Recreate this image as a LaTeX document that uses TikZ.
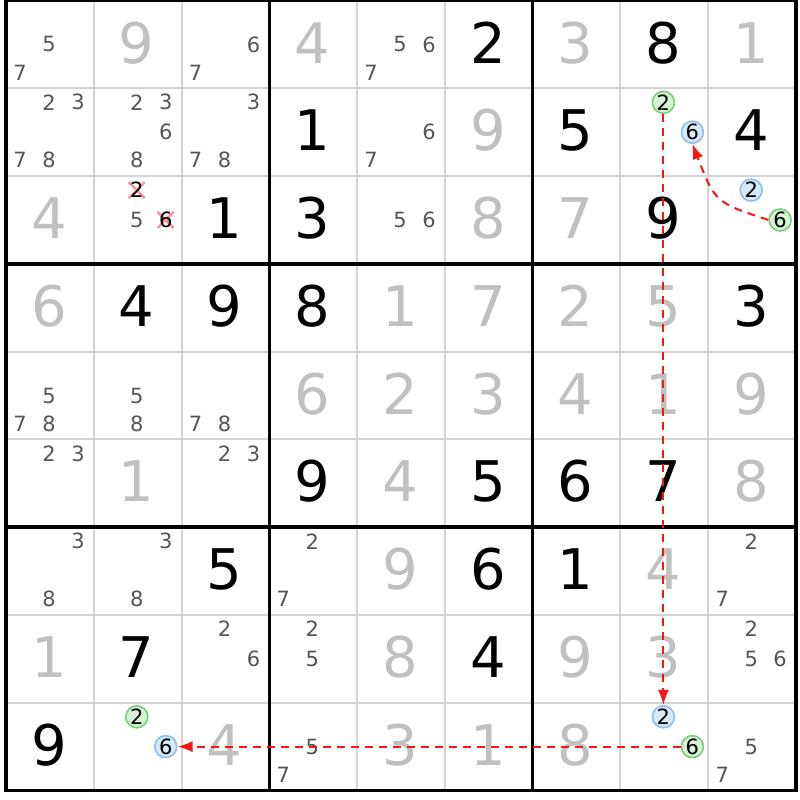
\documentclass[tikz,border=0pt]{standalone}
\usepackage{fontspec}
\setmainfont{DejaVu Sans}
\usepackage{xcolor}
\usepackage{tikz}
\usetikzlibrary{arrows.meta}

\definecolor{solvedgray}{RGB}{192,192,192}
\definecolor{candgray}{RGB}{85,85,85}
\definecolor{gridgray}{RGB}{211,211,211}
\definecolor{ongreen}{RGB}{120,205,120}
\definecolor{ongreenfill}{RGB}{212,244,212}
\definecolor{offblue}{RGB}{140,190,240}
\definecolor{offbluefill}{RGB}{214,232,250}
\definecolor{crosspink}{RGB}{245,150,160}
\definecolor{linkred}{RGB}{250,20,20}

\newcommand{\bigdigit}{\fontsize{56}{60}\selectfont}
\newcommand{\smalldigit}{\fontsize{21}{23}\selectfont}

\tikzset{
  thinline/.style={gridgray, line width=2pt},
  thickline/.style={black, line width=3.5pt},
  given/.style={font=\bigdigit, text=black, inner sep=0pt},
  solved/.style={given, text=solvedgray},
  cand/.style={font=\smalldigit, text=candgray, inner sep=0pt},
  elim/.style={cand, text=black, minimum size=20pt, path picture={
    \draw[crosspink, line width=2.5pt] ([shift={(-8pt,-8pt)}]path picture bounding box.center) -- ([shift={(8pt,8pt)}]path picture bounding box.center);
    \draw[crosspink, line width=2.5pt] ([shift={(-8pt,8pt)}]path picture bounding box.center) -- ([shift={(8pt,-8pt)}]path picture bounding box.center);}},
  oncand/.style={cand, text=black, circle, minimum size=22pt, line width=1.6pt, draw=ongreen, fill=ongreenfill},
  offcand/.style={oncand, draw=offblue, fill=offbluefill},
  link/.style={linkred, line width=2pt, dash pattern=on 8pt off 6pt, -{Latex[length=15pt,width=11pt]}}
}

\begin{document}
\begin{tikzpicture}[x=87.78pt, y=-87.78pt]
\useasboundingbox (-0.068,-0.006) rectangle (9.046,9.108);

\draw[thinline] (1,0) -- (1,9);
\draw[thinline] (2,0) -- (2,9);
\draw[thinline] (4,0) -- (4,9);
\draw[thinline] (5,0) -- (5,9);
\draw[thinline] (7,0) -- (7,9);
\draw[thinline] (8,0) -- (8,9);
\draw[thinline] (0,1) -- (9,1);
\draw[thinline] (0,2) -- (9,2);
\draw[thinline] (0,4) -- (9,4);
\draw[thinline] (0,5) -- (9,5);
\draw[thinline] (0,7) -- (9,7);
\draw[thinline] (0,8) -- (9,8);
\draw[thickline] (3,0) -- (3,9);
\draw[thickline] (6,0) -- (6,9);
\draw[thickline] (0,3) -- (9,3);
\draw[thickline] (0,6) -- (9,6);
\draw[thickline] (0,0) rectangle (9,9);

\node[cand] (c115) at (.49,.5) {5};
\node[cand] (c117) at (.16,.82) {7};
\node[solved] (v12) at (1.49,.48) {9};
\node[cand] (c136) at (2.82,.5) {6};
\node[cand] (c137) at (2.16,.82) {7};
\node[solved] (v14) at (3.49,.48) {4};
\node[cand] (c155) at (4.49,.5) {5};
\node[cand] (c156) at (4.82,.5) {6};
\node[cand] (c157) at (4.16,.82) {7};
\node[given] (v16) at (5.49,.48) {2};
\node[solved] (v17) at (6.49,.48) {3};
\node[given] (v18) at (7.49,.48) {8};
\node[solved] (v19) at (8.49,.48) {1};

\node[cand] (c212) at (.49,1.16) {2};
\node[cand] (c213) at (.82,1.16) {3};
\node[cand] (c217) at (.16,1.82) {7};
\node[cand] (c218) at (.49,1.82) {8};
\node[cand] (c222) at (1.49,1.16) {2};
\node[cand] (c223) at (1.82,1.16) {3};
\node[cand] (c226) at (1.82,1.5) {6};
\node[cand] (c228) at (1.49,1.82) {8};
\node[cand] (c233) at (2.82,1.16) {3};
\node[cand] (c237) at (2.16,1.82) {7};
\node[cand] (c238) at (2.49,1.82) {8};
\node[given] (v24) at (3.49,1.48) {1};
\node[cand] (c256) at (4.82,1.5) {6};
\node[cand] (c257) at (4.16,1.82) {7};
\node[solved] (v26) at (5.49,1.48) {9};
\node[given] (v27) at (6.49,1.48) {5};
\node[oncand] (c282) at (7.49,1.16) {2};
\node[offcand] (c286) at (7.82,1.5) {6};
\node[given] (v29) at (8.49,1.48) {4};

\node[solved] (v31) at (.49,2.48) {4};
\node[elim] (c322) at (1.49,2.16) {2};
\node[cand] (c325) at (1.49,2.5) {5};
\node[elim] (c326) at (1.82,2.5) {6};
\node[given] (v33) at (2.49,2.48) {1};
\node[given] (v34) at (3.49,2.48) {3};
\node[cand] (c355) at (4.49,2.5) {5};
\node[cand] (c356) at (4.82,2.5) {6};
\node[solved] (v36) at (5.49,2.48) {8};
\node[solved] (v37) at (6.49,2.48) {7};
\node[given] (v38) at (7.49,2.48) {9};
\node[offcand] (c392) at (8.49,2.16) {2};
\node[oncand] (c396) at (8.82,2.5) {6};

\node[solved] (v41) at (.49,3.48) {6};
\node[given] (v42) at (1.49,3.48) {4};
\node[given] (v43) at (2.49,3.48) {9};
\node[given] (v44) at (3.49,3.48) {8};
\node[solved] (v45) at (4.49,3.48) {1};
\node[solved] (v46) at (5.49,3.48) {7};
\node[solved] (v47) at (6.49,3.48) {2};
\node[solved] (v48) at (7.49,3.48) {5};
\node[given] (v49) at (8.49,3.48) {3};

\node[cand] (c515) at (.49,4.5) {5};
\node[cand] (c517) at (.16,4.82) {7};
\node[cand] (c518) at (.49,4.82) {8};
\node[cand] (c525) at (1.49,4.5) {5};
\node[cand] (c528) at (1.49,4.82) {8};
\node[cand] (c537) at (2.16,4.82) {7};
\node[cand] (c538) at (2.49,4.82) {8};
\node[solved] (v54) at (3.49,4.48) {6};
\node[solved] (v55) at (4.49,4.48) {2};
\node[solved] (v56) at (5.49,4.48) {3};
\node[solved] (v57) at (6.49,4.48) {4};
\node[solved] (v58) at (7.49,4.48) {1};
\node[solved] (v59) at (8.49,4.48) {9};

\node[cand] (c612) at (.49,5.16) {2};
\node[cand] (c613) at (.82,5.16) {3};
\node[solved] (v62) at (1.49,5.48) {1};
\node[cand] (c632) at (2.49,5.16) {2};
\node[cand] (c633) at (2.82,5.16) {3};
\node[given] (v64) at (3.49,5.48) {9};
\node[solved] (v65) at (4.49,5.48) {4};
\node[given] (v66) at (5.49,5.48) {5};
\node[given] (v67) at (6.49,5.48) {6};
\node[given] (v68) at (7.49,5.48) {7};
\node[solved] (v69) at (8.49,5.48) {8};

\node[cand] (c713) at (.82,6.16) {3};
\node[cand] (c718) at (.49,6.82) {8};
\node[cand] (c723) at (1.82,6.16) {3};
\node[cand] (c728) at (1.49,6.82) {8};
\node[given] (v73) at (2.49,6.48) {5};
\node[cand] (c742) at (3.49,6.16) {2};
\node[cand] (c747) at (3.16,6.82) {7};
\node[solved] (v75) at (4.49,6.48) {9};
\node[given] (v76) at (5.49,6.48) {6};
\node[given] (v77) at (6.49,6.48) {1};
\node[solved] (v78) at (7.49,6.48) {4};
\node[cand] (c792) at (8.49,6.16) {2};
\node[cand] (c797) at (8.16,6.82) {7};

\node[solved] (v81) at (.49,7.48) {1};
\node[given] (v82) at (1.49,7.48) {7};
\node[cand] (c832) at (2.49,7.16) {2};
\node[cand] (c836) at (2.82,7.5) {6};
\node[cand] (c842) at (3.49,7.16) {2};
\node[cand] (c845) at (3.49,7.5) {5};
\node[solved] (v85) at (4.49,7.48) {8};
\node[given] (v86) at (5.49,7.48) {4};
\node[solved] (v87) at (6.49,7.48) {9};
\node[solved] (v88) at (7.49,7.48) {3};
\node[cand] (c892) at (8.49,7.16) {2};
\node[cand] (c895) at (8.49,7.5) {5};
\node[cand] (c896) at (8.82,7.5) {6};

\node[given] (v91) at (.49,8.48) {9};
\node[oncand] (c922) at (1.49,8.16) {2};
\node[offcand] (c926) at (1.82,8.5) {6};
\node[solved] (v93) at (2.49,8.48) {4};
\node[cand] (c945) at (3.49,8.5) {5};
\node[cand] (c947) at (3.16,8.82) {7};
\node[solved] (v95) at (4.49,8.48) {3};
\node[solved] (v96) at (5.49,8.48) {1};
\node[solved] (v97) at (6.49,8.48) {8};
\node[offcand] (c982) at (7.49,8.16) {2};
\node[oncand] (c986) at (7.82,8.5) {6};
\node[cand] (c995) at (8.49,8.5) {5};
\node[cand] (c997) at (8.16,8.82) {7};

\draw[link] (c282) -- (c982);
\draw[link] (c986) -- (c926);
\draw[link] (c396.west) .. controls (8.08,2.3) .. (c286.south);
\end{tikzpicture}
\end{document}
